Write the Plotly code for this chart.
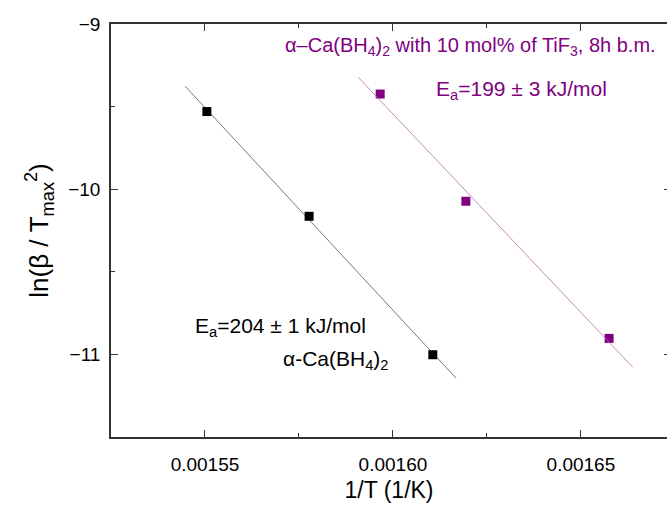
import numpy as np
import plotly.graph_objects as go

# data
x_pure = [0.0015505, 0.0015777, 0.0016106]
y_pure = [-9.53, -10.164, -11.002]
x_tif = [0.0015966, 0.0016194, 0.0016575]
y_tif = [-9.424, -10.073, -10.903]
fit_span_pure = [0.0015447, 0.0016168]
fit_span_tif = [0.0015908, 0.0016638]

x_range = [0.001525, 0.0016729]
y_range = [-11.5, -9]

BLACK = "#000000"
PURPLE = "#800080"
FONT = "Arial, Liberation Sans, sans-serif"
AX = "#333333"

def fit(xs, ys, span):
    k, b = np.polyfit(xs, ys, 1)
    sx = np.array(span)
    return sx, k * sx + b

fig = go.Figure()
fx, fy = fit(x_pure, y_pure, fit_span_pure)
fig.add_trace(go.Scatter(x=fx, y=fy, mode="lines", line=dict(color="#555555", width=0.8),
                         showlegend=False, hoverinfo="skip"))
fx2, fy2 = fit(x_tif, y_tif, fit_span_tif)
fig.add_trace(go.Scatter(x=fx2, y=fy2, mode="lines", line=dict(color="#b36bb3", width=0.8),
                         showlegend=False, hoverinfo="skip", yaxis="y2"))
fig.add_trace(go.Scatter(x=x_pure, y=y_pure, mode="markers",
                         marker=dict(symbol="square", size=9, color=BLACK), showlegend=False))
fig.add_trace(go.Scatter(x=x_tif, y=y_tif, mode="markers",
                         marker=dict(symbol="square", size=9, color=PURPLE), showlegend=False))

tick_common = dict(showgrid=False, zeroline=False, ticks="inside", ticklen=7, tickwidth=1.3,
                   tickcolor=AX, automargin=False,
                   tickfont=dict(family=FONT, size=19, color="#000000"))

fig.update_layout(
    xaxis=dict(range=x_range, tick0=0.00155, dtick=0.00005, tickformat=".5f",
               showline=True, linecolor=AX, linewidth=1.6,
               mirror="ticks", ticklabelstandoff=9,
               minor=dict(ticks="inside", ticklen=4, dtick=0.000025, tick0=0.00155,
                          tickcolor=AX, tickwidth=1.3, showgrid=False),
               title=dict(text="1/T (1/K)", font=dict(family=FONT, size=23, color="#000000"),
                          standoff=8),
               **tick_common),
    yaxis=dict(range=y_range, tick0=-9, dtick=1, showline=True, linecolor=AX, linewidth=1.6,
               mirror=False, ticklabelstandoff=5,
               minor=dict(ticks="inside", ticklen=4, dtick=0.5, tick0=-9,
                          tickcolor=AX, tickwidth=1.3, showgrid=False),
               title=dict(text="ln(β / T<sub>max</sub><sup>2</sup>)",
                          font=dict(family=FONT, size=26, color="#000000"), standoff=12),
               **tick_common),
    # right-hand axis: only the tips of its inward major ticks reach into the picture
    yaxis2=dict(overlaying="y", side="right", anchor="x", range=y_range, tick0=-9, dtick=1,
                showline=False, showgrid=False, zeroline=False, ticks="inside",
                ticklen=3, tickwidth=1.3, tickcolor=AX, showticklabels=False,
                automargin=False),
)

def px_x(p):
    return (p - 111) / 556

def px_y(p):
    return (436.7 - p) / 412.7

ann = [
    dict(text="α–Ca(BH<sub>4</sub>)<sub>2</sub> with 10 mol% of TiF<sub>3</sub>, 8h b.m.",
         x=px_x(283), y=px_y(46), size=20, color=PURPLE),
    dict(text="E<sub>a</sub>=199 ± 3 kJ/mol", x=px_x(434), y=px_y(90), size=21, color=PURPLE),
    dict(text="E<sub>a</sub>=204 ± 1 kJ/mol", x=px_x(193), y=px_y(327), size=21, color=BLACK),
    dict(text="α-Ca(BH<sub>4</sub>)<sub>2</sub>", x=px_x(281), y=px_y(360), size=21, color=BLACK),
]
for a in ann:
    fig.add_annotation(text=a["text"], x=a["x"], y=a["y"], xref="paper", yref="paper",
                       xanchor="left", yanchor="middle", showarrow=False,
                       font=dict(family=FONT, size=a["size"], color=a["color"]))

fig.update_layout(width=667, height=505, paper_bgcolor="white", plot_bgcolor="white",
                  margin=dict(l=111, r=0, t=24, b=68, autoexpand=False), showlegend=False)
fig.write_html("out.html", config={"displayModeBar": False})

with open("out.html", "r", encoding="utf-8") as f:
    html = f.read()
html = html.replace("<head>", "<head><style>html,body{margin:0;padding:0;overflow:hidden;}</style>", 1)
with open("out.html", "w", encoding="utf-8") as f:
    f.write(html)
